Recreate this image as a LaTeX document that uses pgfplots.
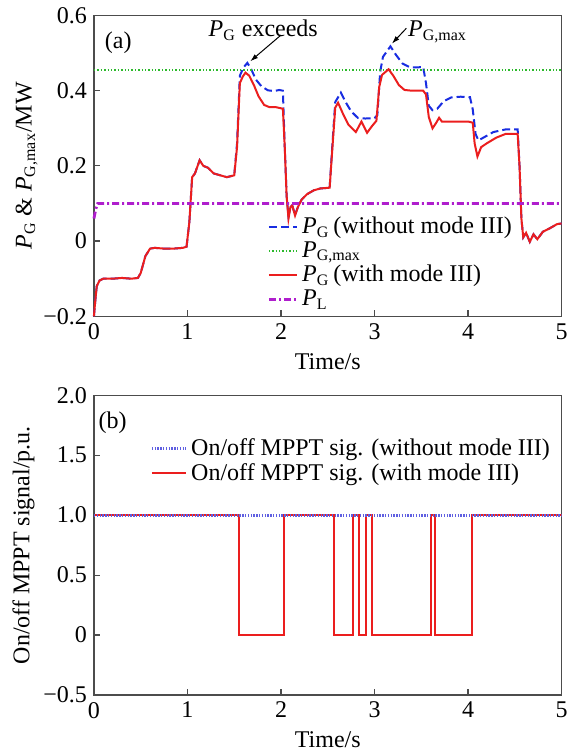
\documentclass[border=0pt]{standalone}
\usepackage{fontspec}
\setmainfont{Liberation Serif}
\usepackage{pgfplots}
\pgfplotsset{compat=1.18}
\usetikzlibrary{arrows.meta}
\definecolor{cblue}{RGB}{25,45,225}
\definecolor{cred}{RGB}{235,30,30}
\definecolor{cgreen}{RGB}{45,185,45}
\definecolor{cpurple}{RGB}{175,30,205}
\definecolor{cdots}{RGB}{95,95,225}
\newcommand{\PG}{\textit{P}\textsubscript{G}}
\newcommand{\PGmax}{\textit{P}\textsubscript{G,max}}
\pgfplotsset{
  myaxis/.style={
    scale only axis, width=234pt,
    xmin=0, xmax=5,
    font=\fontsize{12}{14}\selectfont,
    axis line style={draw=black!70, line width=0.7pt},
    tick style={draw=black!70, line width=0.6pt},
    major tick length=3pt,
    tick align=inside, xtick pos=left, ytick pos=left,
    xtick={0,1,2,3,4,5}, xticklabels={0,1,2,3,4,5},
    xlabel={Time/s},
    legend cell align=left,
    legend style={draw=none, fill=none, font=\fontsize{12}{13}\selectfont, inner sep=0pt},
    legend image code/.code={\draw[#1] (0pt,0pt) -- (14pt,0pt);},
  }
}
\begin{document}
\begin{tikzpicture}
\useasboundingbox (-47pt,-219pt) rectangle (237pt,158.25pt);
\begin{axis}[myaxis, at={(0,0)}, anchor=south west, height=150.5pt,
  ymin=-0.2, ymax=0.6,
  ytick={-0.2,0,0.2,0.4,0.6}, yticklabels={−0.2,0,0.2,0.4,0.6},
  ylabel={\PG\ \& \PGmax/MW}, ylabel shift=-4pt,
  legend style={at={(0.37,0.345)}, anchor=north west, row sep=-1.5pt},
  clip=false]
\addplot[cblue, line width=1pt, dash pattern=on 4pt off 2pt] coordinates {
(0,-0.2) (0.01,-0.17) (0.03,-0.12) (0.06,-0.105) (0.1,-0.1) (0.2,-0.1) (0.3,-0.098) (0.4,-0.1) (0.47,-0.098)
(0.5,-0.085) (0.55,-0.04) (0.6,-0.02) (0.65,-0.018) (0.75,-0.02) (0.85,-0.02) (0.95,-0.018) (0.99,-0.015)
(1.02,0.05) (1.05,0.17) (1.08,0.18) (1.13,0.215) (1.17,0.2) (1.22,0.195) (1.28,0.18) (1.35,0.175) (1.42,0.17) (1.5,0.175)
(1.53,0.26) (1.56,0.44) (1.6,0.462) (1.64,0.474) (1.68,0.458) (1.73,0.43) (1.79,0.412) (1.86,0.401) (1.93,0.399) (1.98,0.402) (2.02,0.4)
(2.04,0.25) (2.06,0.12) (2.08,0.065) (2.1,0.09) (2.12,0.095) (2.15,0.07) (2.18,0.09) (2.22,0.11) (2.28,0.125) (2.35,0.135) (2.42,0.14) (2.52,0.142)
(2.55,0.26) (2.58,0.37) (2.64,0.395) (2.69,0.37) (2.75,0.345) (2.82,0.328) (2.9,0.326) (3.0,0.327) (3.03,0.335)
(3.06,0.45) (3.09,0.49) (3.17,0.518) (3.23,0.495) (3.3,0.472) (3.38,0.462) (3.45,0.462) (3.52,0.463)
(3.55,0.42) (3.58,0.36) (3.62,0.348) (3.67,0.352) (3.74,0.372) (3.82,0.382) (3.92,0.384) (4.02,0.383)
(4.05,0.35) (4.08,0.285) (4.11,0.268) (4.17,0.276) (4.27,0.29) (4.4,0.297) (4.53,0.297)
(4.55,0.2) (4.57,0.06) (4.59,0.01) (4.62,0.022) (4.66,-0.002) (4.7,0.018) (4.74,0.005) (4.8,0.025) (4.88,0.035) (4.95,0.045) (5,0.047)
};
\addlegendentry{\PG\,(without mode III)}
\addplot[cgreen, line width=0.9pt, dash pattern=on 0.7pt off 1pt] coordinates {(0,0.455) (5,0.455)};
\addlegendentry{\PGmax}
\addplot[cred, line width=1pt] coordinates {
(0,-0.2) (0.01,-0.17) (0.03,-0.12) (0.06,-0.105) (0.1,-0.1) (0.2,-0.1) (0.3,-0.098) (0.4,-0.1) (0.47,-0.098)
(0.5,-0.085) (0.55,-0.04) (0.6,-0.02) (0.65,-0.018) (0.75,-0.02) (0.85,-0.02) (0.95,-0.018) (0.99,-0.015)
(1.02,0.05) (1.05,0.17) (1.08,0.18) (1.13,0.215) (1.17,0.2) (1.22,0.195) (1.28,0.18) (1.35,0.175) (1.42,0.17) (1.5,0.175)
(1.53,0.25) (1.56,0.42) (1.59,0.437) (1.62,0.448) (1.66,0.44) (1.71,0.415) (1.76,0.385) (1.82,0.362) (1.88,0.356) (1.95,0.356) (2.02,0.352)
(2.04,0.25) (2.06,0.12) (2.08,0.06) (2.1,0.09) (2.12,0.095) (2.15,0.068) (2.18,0.09) (2.22,0.11) (2.28,0.125) (2.35,0.135) (2.42,0.14) (2.52,0.142)
(2.55,0.25) (2.58,0.355) (2.61,0.368) (2.66,0.34) (2.72,0.31) (2.8,0.29) (2.86,0.318) (2.92,0.288) (2.97,0.305) (3.02,0.32)
(3.05,0.41) (3.08,0.442) (3.15,0.457) (3.2,0.44) (3.26,0.415) (3.32,0.402) (3.4,0.4) (3.52,0.4)
(3.55,0.39) (3.58,0.33) (3.62,0.3) (3.66,0.315) (3.69,0.328) (3.72,0.318) (3.8,0.318) (3.9,0.318) (4.0,0.318) (4.05,0.315)
(4.07,0.26) (4.1,0.225) (4.14,0.25) (4.2,0.26) (4.3,0.275) (4.4,0.285) (4.53,0.285)
(4.55,0.2) (4.57,0.06) (4.59,0.01) (4.62,0.022) (4.66,-0.002) (4.7,0.018) (4.74,0.005) (4.8,0.025) (4.88,0.035) (4.95,0.045) (5,0.047)
};
\addlegendentry{\PG\,(with mode III)}
\addplot[cpurple, line width=1.4pt, dash pattern=on 3.5pt off 1.5pt on 1pt off 1.5pt] coordinates {(0,0.06) (0.02,0.085) (0.04,0.1) (5,0.1)};
\addlegendentry{\textit{P}\textsubscript{L}}
\node at (axis cs:0.26,0.527) {(a)};
\node at (axis cs:1.81,0.561) {\PG\ exceeds};
\node[anchor=west, inner sep=0pt] at (axis cs:3.355,0.557) {\PGmax};
\draw[-{Latex[length=4pt,width=2.5pt]}, line width=0.5pt] (axis cs:2.0,0.548) -- (axis cs:1.67,0.478);
\draw[-{Latex[length=4pt,width=2.5pt]}, line width=0.5pt] (axis cs:3.34,0.566) -- (axis cs:3.185,0.525);
\end{axis}
\begin{axis}[myaxis, at={(0,-189.5pt)}, anchor=south west, height=150pt,
  ymin=-0.5, ymax=2,
  ytick={-0.5,0,0.5,1,1.5,2}, yticklabels={−0.5,0,0.5,1.0,1.5,2.0},
  ylabel={On/off MPPT signal/p.u.}, ylabel shift=-2.5pt,
  reverse legend,
  legend style={at={(0.12,0.87)}, anchor=north west, row sep=-1.5pt},
  legend image code/.code={\draw[#1] (0pt,0pt) -- (17pt,0pt);}]
\addplot[cred, line width=1pt] coordinates {
(0,1) (1.55,1) (1.55,0) (2.03,0) (2.03,1) (2.567,1) (2.567,0) (2.77,0) (2.77,1) (2.835,1) (2.835,0) (2.906,0) (2.906,1)
(2.977,1) (2.977,0) (3.60,0) (3.60,1) (3.65,1) (3.65,0) (4.046,0) (4.046,1) (5,1)
};
\addlegendentry{On/off MPPT sig. (with mode III)}
\addplot[cdots, line width=1.4pt, dash pattern=on 0.7pt off 0.7pt] coordinates {(0,1) (5,1)};
\addlegendentry{On/off MPPT sig. (without mode III)}
\node at (axis cs:0.2,1.77) {(b)};
\end{axis}
\end{tikzpicture}
\end{document}
